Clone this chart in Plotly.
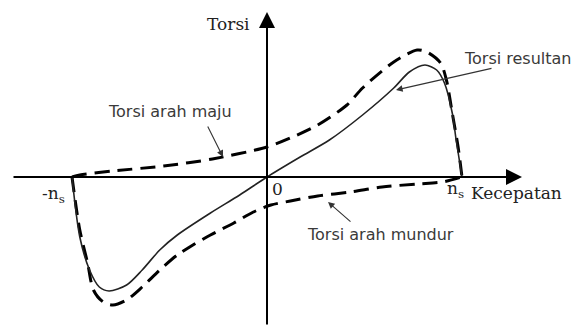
import plotly.graph_objects as go

# Normalised speed (x, -1 = -n_s, +1 = n_s) and torque (arbitrary units)
x_resultan = [-1.00, -0.96, -0.91, -0.86, -0.81, -0.72, -0.64, -0.55, -0.46, -0.29, -0.14,
              0.00, 0.17, 0.32, 0.49, 0.65, 0.73, 0.81, 0.87, 0.91, 0.95, 0.97, 1.00]
y_resultan = [0.00, -0.60, -0.93, -1.10, -1.14, -1.08, -0.93, -0.73, -0.58, -0.36, -0.18,
              0.00, 0.20, 0.37, 0.62, 0.89, 1.05, 1.12, 1.07, 0.94, 0.64, 0.37, 0.00]

x_maju = [-1.00, -0.96, -0.79, -0.53, -0.28, 0.00, 0.12, 0.26, 0.41, 0.49, 0.65, 0.77,
          0.82, 0.89, 0.92, 0.95, 0.98, 1.00]
y_maju = [0.00, 0.02, 0.06, 0.11, 0.18, 0.30, 0.39, 0.52, 0.72, 0.89, 1.15, 1.27,
          1.25, 1.14, 0.97, 0.64, 0.30, 0.00]

x_mundur = [-1.00, -0.96, -0.92, -0.89, -0.84, -0.79, -0.72, -0.64, -0.55, -0.46, -0.38,
            -0.29, -0.17, -0.07, 0.02, 0.12, 0.26, 0.43, 0.59, 0.77, 0.90, 1.00]
y_mundur = [0.00, -0.53, -0.86, -1.13, -1.25, -1.28, -1.23, -1.10, -0.93, -0.78, -0.68,
            -0.58, -0.46, -0.35, -0.28, -0.24, -0.19, -0.15, -0.10, -0.07, -0.05, 0.00]

label_x_axis = "Kecepatan"
label_y_axis = "Torsi"
label_resultan = "Torsi resultan"
label_maju = "Torsi arah maju"
label_mundur = "Torsi arah mundur"

W, H = 577, 326
OX, OY, SX, SY = 267, 177, 195, 100


def px(xp):
    return (xp - OX) / SX


def py(yp):
    return (OY - yp) / SY


fig = go.Figure()
dash_style = dict(color="black", width=3, dash="15px,8px")
fig.add_trace(go.Scatter(x=x_maju, y=y_maju, mode="lines", line=dict(shape="spline", smoothing=0.8, **dash_style),
                         hoverinfo="skip", showlegend=False))
fig.add_trace(go.Scatter(x=x_mundur, y=y_mundur, mode="lines", line=dict(shape="spline", smoothing=0.8, **dash_style),
                         hoverinfo="skip", showlegend=False))
fig.add_trace(go.Scatter(x=x_resultan, y=y_resultan, mode="lines",
                         line=dict(color="#222222", width=1.6, shape="spline", smoothing=0.8),
                         hoverinfo="skip", showlegend=False))

serif = dict(family="DejaVu Serif", size=17, color="#222222")
sans = dict(family="DejaVu Sans", size=16, color="#3a3a3a")

ann = []
# axes with arrow heads
ann.append(dict(x=px(522), y=0, ax=px(12), ay=0, xref="x", yref="y", axref="x", ayref="y",
                text="", showarrow=True, arrowhead=2, arrowsize=1.6, arrowwidth=2, arrowcolor="black", standoff=0))
ann.append(dict(x=0, y=py(12), ax=0, ay=py(326), xref="x", yref="y", axref="x", ayref="y",
                text="", showarrow=True, arrowhead=2, arrowsize=1.6, arrowwidth=2, arrowcolor="black", standoff=0))
# pointers
for (tx, ty, sx, sy) in [(396, 90, 493, 68), (223, 157, 207, 125), (328, 202, 352, 223)]:
    ann.append(dict(x=px(tx), y=py(ty), ax=px(sx), ay=py(sy), xref="x", yref="y", axref="x", ayref="y",
                    text="", showarrow=True, arrowhead=2, arrowsize=1.2, arrowwidth=1.1, arrowcolor="#333333",
                    standoff=0))
# texts
ann.append(dict(x=px(228), y=py(24), text=label_y_axis, showarrow=False, font=serif, xref="x", yref="y"))
ann.append(dict(x=px(469), y=py(193), text=label_x_axis, showarrow=False, font=serif, xref="x", yref="y",
                xanchor="left"))
ann.append(dict(x=px(445), y=py(189), text="n<sub>s</sub>", showarrow=False, font=serif, xref="x", yref="y",
                xanchor="left"))
ann.append(dict(x=px(40), y=py(194), text="-n<sub>s</sub>", showarrow=False, font=serif, xref="x", yref="y",
                xanchor="left"))
ann.append(dict(x=px(270), y=py(189), text="0", showarrow=False, font=serif, xref="x", yref="y",
                xanchor="left"))
ann.append(dict(x=px(518), y=py(58), text=label_resultan, showarrow=False, font=sans, xref="x", yref="y"))
ann.append(dict(x=px(170), y=py(111), text=label_maju, showarrow=False, font=sans, xref="x", yref="y"))
ann.append(dict(x=px(305), y=py(234), text=label_mundur, showarrow=False, font=sans, xref="x", yref="y",
                xanchor="left"))

fig.update_layout(
    width=W, height=H, margin=dict(l=0, r=0, t=0, b=0),
    paper_bgcolor="white", plot_bgcolor="white",
    xaxis=dict(range=[px(0), px(W)], visible=False, fixedrange=True),
    yaxis=dict(range=[py(H), py(0)], visible=False, fixedrange=True),
    annotations=ann,
)
fig.write_html("out.html", config={"displayModeBar": False},
               post_script="document.body.style.margin='0';document.body.style.overflow='hidden';")
